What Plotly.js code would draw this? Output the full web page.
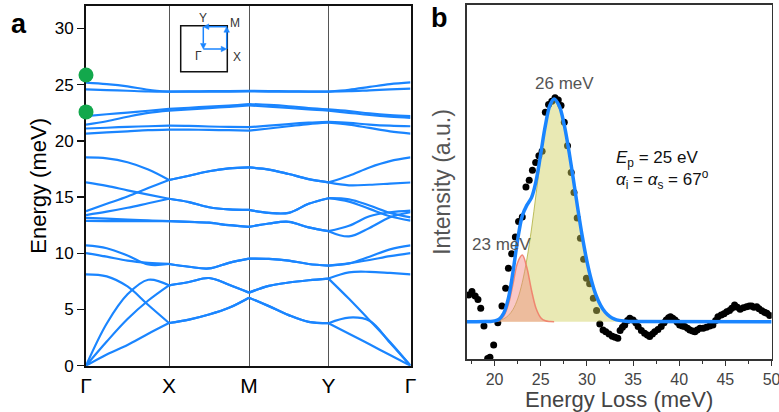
<!DOCTYPE html>
<html>
<head>
<meta charset="utf-8">
<script src="https://cdn.plot.ly/plotly-3.0.1.min.js"></script>
<style>html,body{margin:0;padding:0;background:#fff;}#chart{width:779px;height:412px;}</style>
</head>
<body>
<div id="chart"></div>
<script>
// ---------- Panel a: phonon band structure ----------
const kLabels = ['Γ', 'X', 'M', 'Y', 'Γ'];
const kNodes = [0, 83, 163, 242.5, 324.5];
const kPos = [0, 20.75, 41.5, 62.25, 83, 103, 123, 143, 163, 182.875, 202.75, 222.625, 242.5, 263, 283.5, 304, 324.5];

const bandA1 = [25.18, 25.05, 24.85, 24.55, 24.38, 24.4, 24.42, 24.43, 24.45, 24.43, 24.41, 24.39, 24.38, 24.55, 24.8, 25.05, 25.2];
const bandA2 = [24.59, 24.52, 24.46, 24.4, 24.38, 24.38, 24.38, 24.39, 24.4, 24.39, 24.38, 24.38, 24.38, 24.42, 24.5, 24.58, 24.65];
const bandC1 = [22.2, 22.37, 22.52, 22.68, 22.85, 22.95, 23.05, 23.15, 23.28, 23.2, 23.08, 22.92, 22.8, 22.65, 22.45, 22.3, 22.2];
const bandC2 = [21.45, 21.75, 22.15, 22.5, 22.7, 22.8, 22.92, 23.03, 23.15, 23.05, 22.93, 22.8, 22.7, 22.5, 22.3, 22.15, 22.05];
const bandC3 = [21.1, 21.17, 21.25, 21.3, 21.35, 21.33, 21.28, 21.24, 21.22, 21.35, 21.5, 21.62, 21.7, 21.6, 21.45, 21.35, 21.3];
const bandC4 = [20.65, 20.75, 20.85, 20.95, 21.0, 21.0, 20.98, 20.95, 20.92, 21.1, 21.3, 21.5, 21.62, 21.45, 21.15, 20.85, 20.65];
const bandD1 = [18.53, 18.45, 18.1, 17.45, 16.52, 16.9, 17.3, 17.55, 17.64, 17.45, 17.05, 16.6, 16.31, 16.9, 17.64, 18.2, 18.53];
const bandD2 = [13.75, 14.4, 15.05, 15.8, 16.52, 16.9, 17.3, 17.55, 17.64, 17.45, 17.05, 16.6, 16.31, 16.05, 16.1, 16.2, 16.3];
const bandD3 = [16.31, 16.0, 15.6, 15.22, 14.85, 14.55, 14.1, 13.9, 13.86, 13.6, 13.6, 14.4, 14.9, 14.6, 13.95, 13.3, 12.9];
const bandD4 = [13.4, 13.7, 14.05, 14.45, 14.85, 14.55, 14.1, 13.9, 13.86, 13.6, 13.6, 14.4, 14.9, 14.8, 14.25, 13.6, 13.2];
const bandD5 = [13.15, 13.08, 13.0, 12.92, 12.87, 12.8, 12.72, 12.5, 12.35, 12.65, 12.8, 12.3, 11.97, 11.5, 12.25, 13.2, 13.65];
const bandD6 = [12.88, 12.87, 12.86, 12.86, 12.86, 12.8, 12.72, 12.5, 12.35, 12.65, 12.8, 12.3, 11.97, 12.45, 13.3, 13.65, 13.8];
const bandF1 = [10.7, 10.45, 9.8, 9.0, 9.05, 8.8, 8.65, 9.15, 9.52, 9.5, 9.35, 9.05, 8.9, 9.1, 9.7, 10.35, 10.7];
const bandF2 = [10.02, 9.7, 9.35, 9.15, 9.05, 8.8, 8.65, 9.15, 9.52, 9.5, 9.35, 9.05, 8.9, 9.1, 9.4, 9.75, 10.02];
const bandG1 = [8.13, 7.95, 7.05, 5.4, 3.8, 4.1, 4.55, 5.15, 6.05, 5.3, 4.5, 3.9, 3.78, 4.28, 4.0, 2.05, 0];
const bandG2 = [0, 3.75, 6.35, 7.65, 7.15, 7.45, 7.8, 7.2, 6.5, 7.1, 7.4, 7.6, 7.75, 8.3, 8.35, 8.25, 8.13];
const bandG3 = [0, 2.15, 4.15, 5.8, 7.15, 7.45, 7.8, 7.2, 6.5, 7.1, 7.4, 7.6, 7.75, 5.95, 4.05, 2.1, 0];
const bandG4 = [0, 1.0, 1.85, 2.85, 3.8, 4.1, 4.55, 5.15, 6.05, 5.3, 4.5, 3.9, 3.78, 2.85, 1.9, 0.95, 0];
const bands = [bandA1, bandA2, bandC1, bandC2, bandC3, bandC4, bandD1, bandD2, bandD3, bandD4, bandD5, bandD6, bandF1, bandF2, bandG1, bandG2, bandG3, bandG4];

const markedEnergies = [25.86, 22.58];

// ---------- Panel b: HREELS spectrum ----------
const lossE = [17.2, 17.55, 17.9, 18.2, 18.5, 18.85, 19.25, 19.5, 19.9, 20.35, 20.8, 21.2, 21.5, 21.85, 22.25, 22.6, 23.0, 23.4, 23.75, 24.1, 24.45, 24.8, 25.15, 25.5, 25.85, 26.2, 26.55, 26.9, 27.2, 27.55, 27.9, 28.3, 28.6, 28.95, 29.3, 29.65, 29.95, 30.3, 30.7, 31.05, 31.4, 31.75, 32.05, 32.4, 32.75, 33.05, 33.35, 33.6, 33.85, 34.1, 34.4, 34.65, 35.0, 35.3, 35.55, 35.9, 36.25, 36.55, 36.8, 37.1, 37.35, 37.7, 38.05, 38.35, 38.6, 38.85, 39.05, 39.3, 39.55, 39.8, 40.05, 40.35, 40.6, 40.9, 41.15, 41.45, 41.7, 41.95, 42.25, 42.6, 42.95, 43.3, 43.65, 43.95, 44.2, 44.55, 44.85, 45.15, 45.45, 45.7, 46.0, 46.3, 46.6, 46.95, 47.3, 47.6, 47.85, 48.1, 48.4, 48.65, 48.95, 49.25, 49.5, 49.8];
const lossI = [0.12, 0.135, 0.115, 0.10, 0.06, -0.02, -0.165, -0.16, -0.105, -0.005, 0.07, 0.15, 0.24, 0.305, 0.38, 0.45, 0.47, 0.605, 0.635, 0.68, 0.715, 0.745, 0.765, 0.94, 0.975, 0.99, 1.005, 0.995, 0.97, 0.895, 0.79, 0.67, 0.58, 0.465, 0.375, 0.28, 0.195, 0.17, 0.105, 0.05, -0.01, -0.037, -0.045, -0.055, -0.065, -0.07, -0.075, -0.04, -0.025, -0.015, 0.005, 0.015, 0.008, -0.005, -0.022, -0.04, -0.052, -0.06, -0.067, -0.055, -0.045, -0.035, -0.022, -0.005, 0.008, 0.018, 0.022, 0.015, 0.008, -0.003, -0.015, -0.02, -0.022, -0.03, -0.037, -0.042, -0.045, -0.038, -0.03, -0.03, -0.025, -0.02, -0.015, 0.005, 0.022, 0.03, 0.035, 0.045, 0.05, 0.06, 0.075, 0.065, 0.056, 0.062, 0.067, 0.07, 0.07, 0.065, 0.067, 0.058, 0.049, 0.042, 0.038, 0.028];

const fitE = [17, 18, 19, 19.5, 20, 20.5, 21, 21.5, 22, 22.5, 23, 23.5, 24, 24.5, 25, 25.5, 26, 26.45, 27, 27.5, 28, 28.5, 29, 29.5, 30, 30.5, 31, 31.5, 32, 32.5, 33, 33.5, 34, 34.5, 35, 50];
const peak26 = [0, 0, 0.0003, 0.0009, 0.0023, 0.0057, 0.013, 0.028, 0.055, 0.102, 0.176, 0.281, 0.416, 0.574, 0.736, 0.876, 0.971, 1.0, 0.969, 0.892, 0.780, 0.648, 0.511, 0.383, 0.272, 0.184, 0.118, 0.072, 0.0415, 0.0228, 0.0119, 0.0059, 0.0028, 0.0012, 0.0005, 0];
const peak23 = [0, 0, 0, 0, 0.001, 0.006, 0.026, 0.078, 0.170, 0.266, 0.299, 0.242, 0.141, 0.059, 0.018, 0.004, 0.0006, 0, 0, 0, 0, 0, 0, 0, 0, 0, 0, 0, 0, 0, 0, 0, 0, 0, 0, 0];
const fitTotal = [0, 0, 0.0003, 0.0009, 0.0033, 0.0117, 0.039, 0.106, 0.225, 0.368, 0.475, 0.523, 0.557, 0.633, 0.754, 0.880, 0.972, 1.0, 0.969, 0.892, 0.780, 0.648, 0.511, 0.383, 0.272, 0.184, 0.118, 0.072, 0.0415, 0.0228, 0.0119, 0.0059, 0.0028, 0.0012, 0.0005, 0];

// ---------- build traces ----------
const BLUE = '#1a85ff';
const FONT = 'Liberation Sans, Arial, Helvetica, sans-serif';
const traces = [];
bands.forEach(b => {
  for (let s = 0; s < 4; s++) {
    const i0 = s * 4, i1 = s * 4 + 5;
    traces.push({
      x: kPos.slice(i0, i1), y: b.slice(i0, i1), xaxis: 'x', yaxis: 'y',
      mode: 'lines', line: {color: BLUE, width: 2.2, shape: 'spline', smoothing: 1},
      hoverinfo: 'skip', showlegend: false
    });
  }
});
traces.push({
  x: markedEnergies.map(() => kNodes[0]), y: markedEnergies, xaxis: 'x', yaxis: 'y',
  mode: 'markers', marker: {color: '#13a84c', size: 15}, cliponaxis: false, showlegend: false
});

// panel b
traces.push({
  x: lossE, y: lossI, xaxis: 'x2', yaxis: 'y2', mode: 'markers',
  marker: {color: '#000', size: 7}, showlegend: false
});
function sub(arr, lo, hi) { const xs = [], ys = []; fitE.forEach((e, i) => { if (e >= lo && e <= hi) { xs.push(e); ys.push(arr[i]); } }); return {xs, ys}; }
const p26 = sub(peak26, 18.5, 35.5);
traces.push({
  x: p26.xs, y: p26.ys, xaxis: 'x2', yaxis: 'y2', mode: 'lines', fill: 'tozeroy',
  fillcolor: 'rgba(207,207,89,0.45)', line: {color: 'rgba(175,175,60,0.8)', width: 1, shape: 'spline'}, showlegend: false
});
const p23 = sub(peak23, 19.5, 26.5);
traces.push({
  x: p23.xs, y: p23.ys, xaxis: 'x2', yaxis: 'y2', mode: 'lines', fill: 'tozeroy',
  fillcolor: 'rgba(242,133,129,0.45)', line: {color: 'rgba(240,125,105,0.9)', width: 1.5, shape: 'spline'}, showlegend: false
});
traces.push({
  x: fitE, y: fitTotal, xaxis: 'x2', yaxis: 'y2', mode: 'lines',
  line: {color: BLUE, width: 3.5, shape: 'spline'}, showlegend: false
});

// ---------- layout ----------
const W = 779, H = 412;
const px = v => v / W, py = v => 1 - v / H;
const inset = {l: 180.7, r: 227.3, t: 25.7, b: 71.7, gx: 203.3, gy: 49, xx: 226.7, my: 26.7};
const shapes = [
  {type: 'rect', xref: 'paper', yref: 'paper', x0: px(inset.l), x1: px(inset.r), y0: py(inset.b), y1: py(inset.t), line: {color: '#111', width: 1.5}}
];
function arrowShape(x0, y0, x1, y1) {
  const dx = x1 - x0, dy = y1 - y0, L = Math.hypot(dx, dy), ux = dx / L, uy = dy / L;
  const hl = 5.5, hw = 2.8;
  const bx = x1 - ux * hl, by = y1 - uy * hl;
  shapes.push({type: 'line', xref: 'paper', yref: 'paper', x0: px(x0), y0: py(y0), x1: px(bx), y1: py(by), line: {color: BLUE, width: 1.5}});
  const p1 = [bx - uy * hw, by + ux * hw], p2 = [bx + uy * hw, by - ux * hw];
  shapes.push({type: 'path', xref: 'paper', yref: 'paper',
    path: `M ${px(x1)} ${py(y1)} L ${px(p1[0])} ${py(p1[1])} L ${px(p2[0])} ${py(p2[1])} Z`,
    fillcolor: BLUE, line: {color: BLUE, width: 0.5}});
}
arrowShape(inset.gx, inset.gy, inset.xx, inset.gy);
arrowShape(inset.xx, inset.gy, inset.xx, inset.my);
arrowShape(inset.xx, inset.my, inset.gx, inset.my);
arrowShape(inset.gx, inset.my, inset.gx, inset.gy);

function label(x, y, text, size, color, extra) {
  return Object.assign({xref: 'paper', yref: 'paper', x: px(x), y: py(y), xanchor: 'center', yanchor: 'middle',
    text: text, showarrow: false, font: {family: FONT, size: size, color: color}}, extra || {});
}
const annotations = [
  label(19, 24, '<b>a</b>', 27, '#000'),
  label(439, 18, '<b>b</b>', 27, '#000'),
  label(202.5, 17.5, 'Y', 12, '#333'),
  label(235, 22.5, 'M', 12, '#333'),
  label(198.5, 55.5, 'Γ', 12, '#333'),
  label(237, 56.5, 'X', 12, '#333'),
  label(564, 83, '26 meV', 17, '#555'),
  label(501, 245, '23 meV', 17, '#555'),
  label(614, 170, '<i>E</i><sub>p</sub> = 25 eV<br><i>α</i><sub>i</sub> = <i>α</i><sub>s</sub> = 67<sup>o</sup>', 17, '#111', {xanchor: 'left', align: 'left'})
];

const layout = {
  width: W, height: H, margin: {l: 0, r: 0, t: 0, b: 0}, paper_bgcolor: '#fff', plot_bgcolor: '#fff',
  font: {family: FONT, color: '#000'}, showlegend: false,
  xaxis: {domain: [px(86), px(410.5)], range: [kNodes[0], kNodes[4]], tickvals: kNodes, ticktext: kLabels,
    ticks: '', showgrid: true, gridcolor: '#555', gridwidth: 1, zeroline: false, showline: true, mirror: true,
    linecolor: '#111', linewidth: 2, tickfont: {size: 21, color: '#000'}, fixedrange: true, ticklabeloverflow: 'allow'},
  yaxis: {domain: [py(365.7), py(6)], range: [0, 32], dtick: 5, tick0: 0, ticks: 'outside', ticklen: 7, tickwidth: 1.5,
    tickcolor: '#111', showgrid: false, zeroline: false, showline: true, mirror: true, linecolor: '#111', linewidth: 2,
    tickfont: {size: 17, color: '#000'}, layer: 'below traces',
    title: {text: 'Energy (meV)', font: {size: 22, color: '#000'}, standoff: 2}},
  xaxis2: {domain: [px(466.7), px(771.7)], range: [16.98, 50.02], dtick: 5, tick0: 20, ticks: 'outside', ticklen: 5, tickwidth: 1,
    tickcolor: '#333', minor: {dtick: 2.5, ticks: 'outside', ticklen: 3, tickcolor: '#333'},
    showgrid: false, zeroline: false, showline: true, mirror: true, linecolor: '#333', linewidth: 1.5,
    tickfont: {size: 16, color: '#444'}, anchor: 'y2', ticklabeloverflow: 'allow',
    title: {text: 'Energy Loss (meV)', font: {size: 22, color: '#444'}, standoff: 4}},
  yaxis2: {domain: [py(359.3), py(4.7)], range: [-0.169, 1.423], showticklabels: false, ticks: '', showgrid: false,
    zeroline: false, showline: true, mirror: true, linecolor: '#333', linewidth: 1.5, anchor: 'x2',
    title: {text: 'Intensity (a.u.)', font: {size: 23, color: '#555'}, standoff: 8}},
  annotations: annotations, shapes: shapes
};
Plotly.newPlot('chart', traces, layout, {displayModeBar: false, staticPlot: true});
</script>
</body>
</html>
